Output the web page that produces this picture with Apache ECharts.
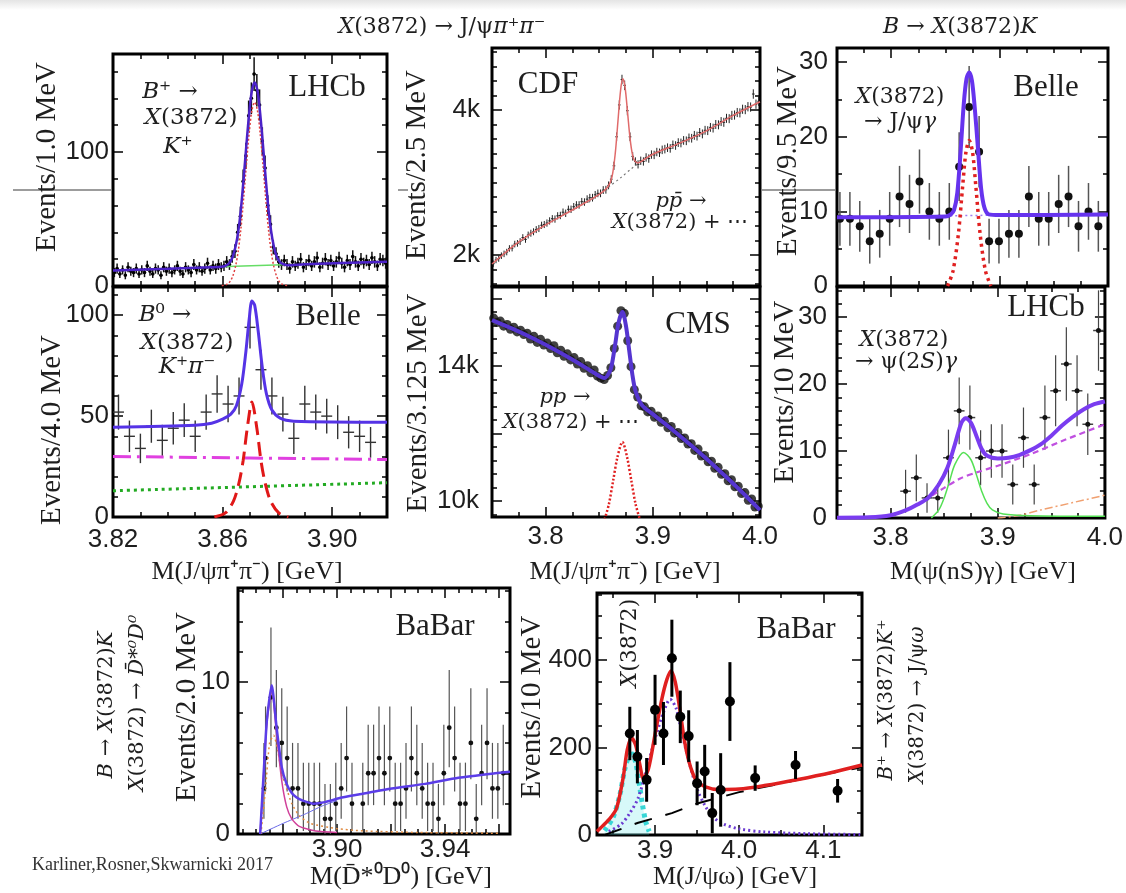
<!DOCTYPE html>
<html><head><meta charset="utf-8">
<script src="https://cdn.jsdelivr.net/npm/echarts/dist/echarts.min.js"></script>
<style>html,body{margin:0;padding:0;background:#fff}#c{width:1126px;height:893px}</style>
</head><body><div id="c"></div>
<script>
// ---------------- DATA ----------------
// Panel 1: LHCb B+ -> X(3872)K+, J/psi pi pi (1 MeV bins)
const lhcbX = [3.8205,3.8215,3.8225,3.8235,3.8245,3.8255,3.8265,3.8275,3.8285,3.8295,
3.8305,3.8315,3.8325,3.8335,3.8345,3.8355,3.8365,3.8375,3.8385,3.8395,
3.8405,3.8415,3.8425,3.8435,3.8445,3.8455,3.8465,3.8475,3.8485,3.8495,
3.8505,3.8515,3.8525,3.8535,3.8545,3.8555,3.8565,3.8575,3.8585,3.8595,
3.8605,3.8615,3.8625,3.8635,3.8645,3.8655,3.8665,3.8675,3.8685,3.8695,
3.8705,3.8715,3.8725,3.8735,3.8745,3.8755,3.8765,3.8775,3.8785,3.8795,
3.8805,3.8815,3.8825,3.8835,3.8845,3.8855,3.8865,3.8875,3.8885,3.8895,
3.8905,3.8915,3.8925,3.8935,3.8945,3.8955,3.8965,3.8975,3.8985,3.8995,
3.9005,3.9015,3.9025,3.9035,3.9045,3.9055,3.9065,3.9075,3.9085,3.9095,
3.9105,3.9115,3.9125,3.9135,3.9145,3.9155,3.9165,3.9175,3.9185,3.9195];
const lhcbY = [10,13,9,12,8,14,11,10,13,9, 12,10,15,11,9,13,12,8,14,11, 13,10,12,15,11,9,14,12,10,16,
12,14,11,13,17,12,15,13,16,14, 15,18,16,22,26,40,52,78,97,127, 140,158,146,135,108,88,60,46,29,24,
18,16,19,16,13,18,15,17,20,14, 16,19,15,18,21,14,17,20,16,19, 15,18,21,17,14,19,16,22,18,15, 20,17,19,16,21,18,15,20,19,17];
const lhcbErr = [3.4,3.8,3.0,3.4,3.0,3.8,3.4,3.4,3.8,3.0, 3.4,3.4,3.8,3.4,3.0,3.8,3.4,3.0,3.8,3.4, 3.8,3.4,3.4,3.8,3.4,3.0,3.8,3.4,3.4,4.1,
3.4,3.8,3.4,3.8,4.1,3.4,3.8,3.8,4.1,3.8, 3.8,4.3,4.0,4.7,5.1,6.3,7.2,8.8,9.8,11.3, 11.8,12.6,12.1,11.6,10.4,9.4,7.7,6.8,5.4,4.9,
4.3,4.0,4.3,4.1,3.8,4.3,3.8,4.1,4.6,3.8, 4.1,4.3,3.8,4.3,4.6,3.8,4.1,4.6,4.1,4.3, 3.8,4.3,4.6,4.1,3.8,4.3,4.1,4.6,4.3,3.8, 4.6,4.1,4.3,4.1,4.6,4.3,3.8,4.6,4.3,4.1];
const lhcbFit = [[3.82,11.5],[3.84,12.8],[3.8557,14.0],[3.8597,14.3],[3.8617,15.8],[3.8627,17.8],[3.8637,21.8],[3.8647,29.2],[3.8657,40.6],[3.8667,57.6],[3.8677,80.7],[3.8687,105.7],[3.8697,128.8],[3.8707,145.8],[3.8717,151.8],[3.8727,145.9],[3.8737,129],[3.8747,106],[3.8757,81],[3.8767,58],[3.8777,41],[3.8787,29.5],[3.8797,22.3],[3.8807,18.4],[3.8817,16.6],[3.8837,15.4],[3.89,16.3],[3.92,18]];
const lhcbSig = [[3.8597,0.2],[3.8617,1.4],[3.8627,3.3],[3.8637,7.3],[3.8647,14.5],[3.8657,26],[3.8667,43],[3.8677,66],[3.8687,91],[3.8697,114],[3.8707,131],[3.8717,137],[3.8727,131],[3.8737,114],[3.8747,91],[3.8757,66],[3.8767,43],[3.8777,26],[3.8787,14.5],[3.8797,7.3],[3.8807,3.3],[3.8817,1.4],[3.8837,0.2]];
const lhcbBg = [[3.856,14.2],[3.882,15.8]];

// Panel 2: Belle B0 -> X(3872) K+ pi- (4 MeV bins)
const b0X = [3.822,3.826,3.830,3.834,3.838,3.842,3.846,3.850,3.854,3.858,3.862,3.866,3.870,3.874,3.878,3.882,3.886,3.890,3.894,3.898,3.902,3.906,3.910,3.914];
const b0Y = [52,40,34,45,38,44,48,40,52,61,56,60,94,73,60,51,39,56,52,50,47,42,40,37];
const b0Err = [8.7,7.8,7.3,8.2,7.7,8.1,8.4,7.8,8.7,9.3,9.0,9.2,10.5,9.9,9.2,8.6,7.8,9.0,8.7,8.6,8.4,8.0,7.8,7.6];
const b0Fit = [[3.82,44.5],[3.85,45.5],[3.856,46.5],[3.86,48.5],[3.863,51],[3.865,55],[3.867,66],[3.8685,82],[3.8697,98],[3.8707,107],[3.8717,105],[3.873,92],[3.8745,74],[3.876,61],[3.878,53],[3.881,49],[3.886,47.5],[3.92,47]];
const b0Sig = [[3.857,0],[3.861,2],[3.864,8],[3.866,17],[3.8675,28],[3.869,44],[3.8707,57],[3.8725,44],[3.874,28],[3.8755,17],[3.8775,8],[3.8805,2],[3.884,0]];
const b0BgA = [[3.82,30],[3.92,28.5]];
const b0BgB = [[3.82,13],[3.92,17]];

// Panel 3: CDF (2.5 MeV bins)
const cdfX = [3.75125,3.75375,3.75625,3.75875,3.76125,3.76375,3.76625,3.76875,3.77125,3.77375,
3.77625,3.77875,3.78125,3.78375,3.78625,3.78875,3.79125,3.79375,3.79625,3.79875,
3.80125,3.80375,3.80625,3.80875,3.81125,3.81375,3.81625,3.81875,3.82125,3.82375,
3.82625,3.82875,3.83125,3.83375,3.83625,3.83875,3.84125,3.84375,3.84625,3.84875,
3.85125,3.85375,3.85625,3.85875,3.86125,3.86375,3.86625,3.86875,3.87125,3.87375,
3.87625,3.87875,3.88125,3.88375,3.88625,3.88875,3.89125,3.89375,3.89625,3.89875,
3.90125,3.90375,3.90625,3.90875,3.91125,3.91375,3.91625,3.91875,3.92125,3.92375,
3.92625,3.92875,3.93125,3.93375,3.93625,3.93875,3.94125,3.94375,3.94625,3.94875,
3.95125,3.95375,3.95625,3.95875,3.96125,3.96375,3.96625,3.96875,3.97125,3.97375,
3.97625,3.97875,3.98125,3.98375,3.98625,3.98875,3.99125,3.99375,3.99625,3.99875];
const cdfY = [1880,1930,1950,1990,2015,2040,2090,2095,2150,2160, 2185,2240,2215,2275,2300,2320,2350,2365,2410,2420,
2440,2470,2500,2495,2540,2545,2590,2575,2630,2630, 2665,2690,2690,2735,2730,2770,2790,2790,2830,2850,
2850,2895,2900,2960,3045,3230,3630,4070,4420,4340, 3990,3630,3360,3290,3250,3300,3290,3345,3330,3385,
3380,3420,3410,3450,3460,3480,3470,3520,3510,3550, 3545,3580,3575,3615,3610,3650,3640,3690,3670,3720,
3715,3760,3750,3800,3795,3840,3830,3885,3880,3925, 3930,3965,3960,4010,4005,4045,4040,4220,4080,4120];
const cdfErr = [44,44,44,45,45,45,45,46,46,46, 47,47,47,48,48,48,48,49,49,49, 50,50,50,50,50,51,51,51,51,51, 52,52,52,52,52,53,53,53,53,53,
53,54,54,54,55,57,60,64,66,66, 63,60,58,57,57,57,57,58,58,58, 58,58,58,59,59,59,59,59,59,60, 60,60,60,60,60,61,61,61,61,61,
61,61,61,62,62,62,62,62,62,63, 63,63,63,63,63,64,64,65,64,64];
const cdfFit = [[3.75,1875],[3.775,2180],[3.80,2415],[3.825,2620],[3.85,2835],[3.858,2938],[3.862,3082],[3.865,3404],[3.8675,3848],[3.87,4279],[3.872,4430],[3.874,4329],[3.8765,3961],[3.879,3580],[3.882,3330],[3.886,3269],[3.89,3298],[3.90,3390],[3.925,3542],[3.95,3712],[3.975,3925],[4.0,4113]];
const cdfBg = [[3.84,2725],[3.85,2835],[3.86,2950],[3.87,3065],[3.88,3190],[3.89,3298],[3.90,3390]];

// Panel 4: CMS (3.125 MeV bins)
const cmsX = [3.7516,3.7547,3.7578,3.7609,3.7641,3.7672,3.7703,3.7734, 3.7766,3.7797,3.7828,3.7859,3.7891,3.7922,3.7953,3.7984,
3.8016,3.8047,3.8078,3.8109,3.8141,3.8172,3.8203,3.8234, 3.8266,3.8297,3.8328,3.8359,3.8391,3.8422,3.8453,3.8484,
3.8516,3.8547,3.8578,3.8609,3.8641,3.8672,3.8703,3.8734, 3.8766,3.8797,3.8828,3.8859,3.8891,3.8922,3.8953,3.8984,
3.9016,3.9047,3.9078,3.9109,3.9141,3.9172,3.9203,3.9234, 3.9266,3.9297,3.9328,3.9359,3.9391,3.9422,3.9453,3.9484,
3.9516,3.9547,3.9578,3.9609,3.9641,3.9672,3.9703,3.9734, 3.9766,3.9797,3.9828,3.9859,3.9891,3.9922,3.9953,3.9984];
const cmsY = [15420,15290,15330,15180,15230,15090,15150,15010, 15060,14930,14970,14800,14880,14700,14790,14620,
14680,14520,14600,14390,14470,14290,14360,14180, 14250,14060,14130,13930,14010,13800,13880,13700,
13640,13600,13720,13950,14520,15180,15640,15560, 14750,13980,13300,13080,12820,12790,12640,12660,
12480,12520,12330,12360,12170,12210,12010,12030, 11850,11870,11690,11700,11500,11540,11330,11350,
11160,11180,10970,11000,10790,10810,10600,10630, 10420,10440,10220,10250,10020,10060,9820,9850];
const cmsFit = [[3.75,15360],[3.77,15091],[3.79,14791],[3.81,14459],[3.83,14095],[3.845,13802],[3.855,13645],[3.86,13844],[3.862,14076],[3.865,14657],[3.868,15277],[3.8717,15605],[3.875,15180],[3.878,14459],[3.881,13735],[3.884,13245],[3.89,12837],[3.90,12574],[3.92,12068],[3.94,11531],[3.96,10963],[3.98,10362],[4.0,9730]];
const cmsSig = [[3.855,9450],[3.859,9900],[3.863,10600],[3.867,11300],[3.8717,11750],[3.876,11300],[3.880,10600],[3.884,9900],[3.888,9450]];

// Panel 5: Belle X(3872) -> J/psi gamma
const bjgX = [3.7527,3.7619,3.7710,3.7802,3.7894,3.7986,3.8077,3.8169,3.8261,3.8352,3.8444,3.8536,3.8627,3.8719,3.8811,3.8903,3.8994,3.9086,3.9178,3.9270,3.9361,3.9453,3.9545,3.9636,3.9728,3.9820,3.9911];
const bjgY = [9,9,8,6,7,9,12,11,14,10,9,10,16,24,18,6,6,7,7,12,9,9,11,12,8,10,8];
const bjgErr = [3.6,3.6,3.4,3.0,3.2,3.6,4.1,3.9,4.3,3.8,3.6,3.8,4.6,5.5,4.8,3.0,3.0,3.2,3.2,4.1,3.6,3.6,3.9,4.1,3.4,3.8,3.4];
const bjgFit = [[3.75,9.2],[3.85,9.3],[3.855,9.6],[3.858,10.2],[3.861,12.5],[3.864,18],[3.867,24.5],[3.8695,27.8],[3.872,28.6],[3.8745,27.5],[3.877,24],[3.880,18.5],[3.883,13],[3.886,10.5],[3.890,9.6],[3.90,9.5],[4.0,9.6]];
const bjgSig = [[3.852,0],[3.857,2],[3.862,7],[3.866,13.5],[3.869,18],[3.872,19.5],[3.875,18],[3.878,13.5],[3.882,7],[3.887,2],[3.892,0]];
const bjgBg = [[3.85,9.4],[3.90,9.5]];

// Panel 6: LHCb X(3872) -> psi(2S) gamma (10 MeV bins)
const lpsX = [3.814,3.824,3.834,3.844,3.854,3.864,3.874,3.884,3.894,3.904,3.914,3.924,3.934,3.944,3.954,3.964,3.974,3.984,3.994];
const lpsY = [4,6,3,3,9,16,15,9,10,10,5,12,5,15,19,23,19,14,28];
const lpsErr = [3.2,3.5,2.2,2.2,4.2,5.0,4.8,4.1,4.0,4.0,3.0,4.5,3.0,4.8,5.3,5.5,5.3,4.6,6.0];
const lpsFit = [[3.75,0.05],[3.78,0.1],[3.80,0.4],[3.815,1.2],[3.825,2.0],[3.835,3.0],[3.845,5.0],[3.853,7.5],[3.86,11.0],[3.866,14.2],[3.87,14.9],[3.875,14.2],[3.88,12.3],[3.885,10.3],[3.89,9.3],[3.90,8.9],[3.91,9.0],[3.92,9.4],[3.93,10.1],[3.94,11.0],[3.95,12.3],[3.96,13.8],[3.97,15.1],[3.98,16.2],[3.99,17.0],[4.0,17.4]];
const lpsSig = [[3.838,0],[3.845,1.2],[3.85,3],[3.855,5.5],[3.86,8],[3.868,9.8],[3.875,8.7],[3.88,6.5],[3.885,4],[3.89,2.2],[3.895,1.2],[3.905,0.6],[3.93,0.35],[4.0,0.25]];
const lpsBgA = [[3.75,0],[3.80,0.4],[3.82,1.6],[3.835,3.0],[3.85,4.5],[3.865,5.9],[3.88,6.8],[3.90,7.8],[3.93,9.5],[3.96,11.5],[4.0,14.0]];
const lpsBgB = [[3.90,0],[3.92,0.4],[3.94,1.2],[3.97,2.3],[4.0,3.4]];

// Panel 7: BaBar X(3872) -> D*0 D0 (2 MeV bins)
const bdX = [3.8729,3.8735,3.8755,3.8775,3.8795,3.8815,3.8835,3.8855,3.8875,3.8895,3.8915,3.8935,3.8955,3.8975,3.8995,3.9015,3.9035,3.9055,
3.9095,3.9115,3.9135,3.9155,3.9175,3.9195,3.9215,3.9235,3.9255,3.9275,3.9295,3.9315,3.9335,3.9355,3.9375,3.9395,3.9415,3.9435,3.9455,3.9475,3.9495,3.9515,3.9535,3.9555,3.9575,3.9595,3.9615];
const bdY = [3, 5,9,7,6,5,3,3,2,2,2,2,1,1,2,3,5,2, 2,4,4,5,4,5,2,2,3,5,4,3,2,2,1,4,7,5,2,2,6,1,4,6,3,3,4];
const bdHi = [3.0, 3.4,4.6,3.8,3.6,3.4,3.0,3.0,2.7,2.7,2.7,2.7,2.3,2.3,2.7,3.0,3.4,2.7, 2.7,3.2,3.2,3.4,3.2,3.4,2.7,2.7,3.0,3.4,3.2,3.0,2.7,2.7,2.3,3.2,3.8,3.4,2.7,2.7,3.6,2.3,3.2,3.6,3.0,3.0,3.2];
const bdLo = [2.0, 2.2,3.2,2.6,2.4,2.2,2.0,2.0,1.8,1.8,1.8,1.8,1.0,1.0,1.8,2.0,2.2,1.8, 1.8,2.1,2.1,2.2,2.1,2.2,1.8,1.8,2.0,2.2,2.1,2.0,1.8,1.8,1.0,2.1,2.6,2.2,1.8,1.8,2.4,1.0,2.1,2.4,2.0,2.0,2.1];
const bdFit = [[3.8715,0],[3.8728,4],[3.874,7.5],[3.8758,9.8],[3.8776,7.0],[3.8795,4.4],[3.8813,3.3],[3.8832,2.7],[3.885,2.4],[3.8873,2.2],[3.8912,2.0],[3.8955,2.1],[3.9017,2.4],[3.9079,2.6],[3.9202,3.0],[3.9326,3.3],[3.9449,3.7],[3.9585,4.0],[3.964,4.1]];
const bdSig = [[3.8715,0],[3.8728,4],[3.874,7.3],[3.8758,9.5],[3.8776,6.5],[3.8795,3.5],[3.8813,1.8],[3.8832,1.0],[3.886,0.5],[3.892,0.2],[3.90,0.1]];
const bdBgA = [[3.8718,0],[3.8735,3],[3.875,6],[3.8765,6.5],[3.878,5.5],[3.8795,4],[3.8813,3.0],[3.8832,2.0],[3.886,1.2],[3.89,0.7],[3.90,0.35],[3.91,0.2],[3.93,0.1],[3.96,0.05]];
const bdBgB = [[3.8715,0],[3.88,0.7],[3.888,1.3],[3.8945,1.85],[3.90,2.2]];

// Panel 8: BaBar B+ -> X K+, X -> J/psi omega
const jwX = [3.870,3.879,3.890,3.900,3.910,3.920,3.930,3.940,3.950,3.959,3.968,3.978,3.989,4.019,4.067,4.117];
const jwY = [232,179,126,286,232,404,270,226,118,145,50,103,305,130,160,101];
const jwErr = [61,61,50,80,72,88,60,59,50,61,46,84,90,29,32,27];
const jwFit = [[3.831,8],[3.8346,15],[3.845,35],[3.854,60],[3.862,130],[3.867,195],[3.872,222],[3.877,205],[3.882,160],[3.886,130],[3.892,150],[3.90,230],[3.908,310],[3.914,355],[3.919,375],[3.924,350],[3.93,280],[3.935,215],[3.94,170],[3.945,140],[3.95,122],[3.96,110],[3.975,104],[4.0,105],[4.03,113],[4.07,127],[4.11,143],[4.146,160]];
const jwSigA = [[3.84,10],[3.85,40],[3.858,90],[3.864,150],[3.869,180],[3.873,185],[3.877,165],[3.881,120],[3.885,70],[3.889,30],[3.893,8]];
const jwSigB = [[3.845,8],[3.86,25],[3.87,50],[3.88,85],[3.89,150],[3.90,220],[3.91,280],[3.918,310],[3.925,290],[3.93,250],[3.94,170],[3.95,105],[3.96,65],[3.97,40],[3.98,26],[4.0,14],[4.03,7],[4.08,3],[4.146,1]];
const jwBg = [[3.84,0],[3.88,28],[3.92,50],[3.95,72],[4.0,98],[4.05,118],[4.10,138],[4.146,155]];

// Tick labels
const xLab382 = [3.82, 3.86, 3.90];
const xLab38 = [3.8, 3.9, 4.0];
const xLabBD = [3.90, 3.94];
const xLabJW = [3.9, 4.0, 4.1];
const yLabP1 = [0, 100];
const yLabP2 = [0, 50, 100];
const yLabP3 = [2000, 4000];
const yLabP4 = [10000, 14000];
const yLab30 = [0, 10, 20, 30];
const yLabP7 = [0, 10];
const yLabP8 = [0, 200, 400];

// ---------------- BUILD ----------------
const FS = "'Liberation Serif','Times New Roman',serif";
const FM = "'DejaVu Serif','Liberation Serif',serif";
const FSANS = "'Liberation Sans',Arial,sans-serif";
function steps(a, b, s) { const out = []; for (let v = a; v <= b + 1e-9; v += s) out.push(Math.round(v * 1e6) / 1e6); return out; }

const grids = [], xAxis = [], yAxis = [], series = [];
function mkPanel(g, xr, yr, xt, yt) {
  const gi = grids.length;
  grids.push({left: g[0], top: g[1], width: g[2], height: g[3], show: true, borderColor: '#000', borderWidth: 3, backgroundColor: 'rgba(0,0,0,0)'});
  const ax = {xi: xAxis.length, yi: yAxis.length};
  const base = (r) => ({type: 'value', gridIndex: gi, min: r[0], max: r[1], axisLine: {show: false, onZero: false}, splitLine: {show: false}});
  const tick = (vals, len) => ({show: true, inside: true, length: len, customValues: vals, lineStyle: {color: '#000', width: 1.5}});
  const lab = (vals, fmt, margin) => vals ? {show: true, customValues: vals, formatter: fmt, margin: margin, fontSize: 26, fontFamily: FSANS, color: '#1e1e1e'} : {show: false};
  xAxis.push(Object.assign(base(xr), {position: 'bottom', axisTick: tick(xt.major, 10), axisLabel: lab(xt.labels, xt.fmt, xt.margin)}));
  xAxis.push(Object.assign(base(xr), {position: 'bottom', axisTick: tick(xt.minor, 5), axisLabel: {show: false}}));
  xAxis.push(Object.assign(base(xr), {position: 'top', axisTick: tick(xt.major, 10), axisLabel: {show: false}}));
  xAxis.push(Object.assign(base(xr), {position: 'top', axisTick: tick(xt.minor, 5), axisLabel: {show: false}}));
  yAxis.push(Object.assign(base(yr), {position: 'left', axisTick: tick(yt.major, 10), axisLabel: lab(yt.labels, yt.fmt, yt.margin)}));
  yAxis.push(Object.assign(base(yr), {position: 'left', axisTick: tick(yt.minor, 5), axisLabel: {show: false}}));
  yAxis.push(Object.assign(base(yr), {position: 'right', axisTick: tick(yt.major, 10), axisLabel: {show: false}}));
  yAxis.push(Object.assign(base(yr), {position: 'right', axisTick: tick(yt.minor, 5), axisLabel: {show: false}}));
  return ax;
}
function curve(ax, data, color, width, type, opt) {
  opt = opt || {};
  const s = {type: 'line', xAxisIndex: ax.xi, yAxisIndex: ax.yi, data: data, showSymbol: false, symbol: 'none',
    smooth: opt.smooth === undefined ? 0.3 : opt.smooth, clip: true, silent: true, z: opt.z || 4,
    lineStyle: {color: color, width: width, type: type || 'solid', cap: 'butt'}};
  if (opt.area) s.areaStyle = {color: opt.area, origin: 'start'};
  return s;
}
function points(ax, xs, ys, lo, hi, st) {
  const data = xs.map((x, i) => [x, ys[i], lo ? lo[i] : 0, hi ? hi[i] : (lo ? lo[i] : 0)]);
  return {type: 'custom', xAxisIndex: ax.xi, yAxisIndex: ax.yi, data: data, silent: true, z: st.z || 3,
    encode: {x: 0, y: 1},
    renderItem: function (params, api) {
      const x = api.value(0), y = api.value(1), el = api.value(2), eh = api.value(3);
      const cs = params.coordSys, T = cs.y, B = cs.y + cs.height, L = cs.x, R = cs.x + cs.width;
      const p = api.coord([x, y]);
      if (p[0] < L - 0.5 || p[0] > R + 0.5) return;
      const cl = v => Math.max(T, Math.min(B, v));
      const y1 = cl(api.coord([x, y - el])[1]), y2 = cl(api.coord([x, y + eh])[1]);
      const ch = [];
      if (st.bw && (el > 0 || eh > 0)) ch.push({type: 'line', shape: {x1: p[0], y1: y1, x2: p[0], y2: y2}, style: {stroke: st.color, lineWidth: st.bw}});
      const inside = p[1] >= T && p[1] <= B;
      if (st.hw && inside) {
        const a = api.coord([x - st.hw, y])[0], b = api.coord([x + st.hw, y])[0];
        ch.push({type: 'line', shape: {x1: Math.max(L, a), y1: p[1], x2: Math.min(R, b), y2: p[1]}, style: {stroke: st.color, lineWidth: st.hlw || st.bw}});
      }
      if (st.r && inside) ch.push({type: 'circle', shape: {cx: p[0], cy: p[1], r: st.r}, style: {fill: st.dot || '#000'}});
      return {type: 'group', children: ch};
    }};
}

const f2 = v => v.toFixed(2), f1 = v => v.toFixed(1), fk = v => (v / 1000) + 'k', fi = v => String(v);

// P1 LHCb
const a1 = mkPanel([113, 54, 274, 232], [3.82, 3.92], [0, 173],
  {major: xLab382, minor: steps(3.82, 3.92, 0.01)},
  {major: yLabP1, minor: steps(0, 160, 20), labels: yLabP1, fmt: fi, margin: 4});
series.push(points(a1, lhcbX, lhcbY, lhcbErr, null, {color: '#111', bw: 1.5, hw: 0.0005, r: 1.8}));
series.push(curve(a1, lhcbBg, '#66dd66', 1.5));
series.push(curve(a1, lhcbSig, '#e04040', 1.5, [2, 2]));
series.push(curve(a1, lhcbFit, '#4b22c8', 2.5, 'solid', {z: 5}));

// P2 Belle B0
const a2 = mkPanel([113, 287, 274, 230], [3.82, 3.92], [0, 114],
  {major: xLab382, minor: steps(3.82, 3.92, 0.01), labels: xLab382, fmt: f2, margin: 10},
  {major: yLabP2, minor: steps(0, 110, 10), labels: yLabP2, fmt: fi, margin: 4});
series.push(curve(a2, b0BgB, '#22aa22', 3, [3, 4]));
series.push(curve(a2, b0BgA, '#e040e0', 3, [18, 6, 3, 6]));
series.push(curve(a2, b0Sig, '#e01818', 3, [14, 7]));
series.push(points(a2, b0X, b0Y, b0Err, null, {color: '#333', bw: 1.4, hw: 0.002}));
series.push(curve(a2, b0Fit, '#5533e6', 3, 'solid', {z: 5}));

// P3 CDF
const a3 = mkPanel([492, 48, 268, 238], [3.75, 4.0], [1572, 4855],
  {major: xLab38, minor: steps(3.75, 4.0, 0.025)},
  {major: yLabP3, minor: steps(1600, 4800, 200), labels: yLabP3, fmt: fk, margin: 12});
series.push(curve(a3, cdfBg, '#777', 1.2, [2, 3]));
series.push(points(a3, cdfX, cdfY, cdfErr, null, {color: '#222', bw: 1, hw: 0.00125, hlw: 1}));
series.push(curve(a3, cdfFit, '#e06a6a', 1.5));

// P4 CMS
const a4 = mkPanel([492, 287, 268, 230], [3.75, 4.0], [9526, 16341],
  {major: xLab38, minor: steps(3.75, 4.0, 0.025), labels: xLab38, fmt: f1, margin: 7},
  {major: [10000, 12000, 14000, 16000], minor: steps(9600, 16000, 400), labels: yLabP4, fmt: fk, margin: 13});
series.push({type: 'scatter', xAxisIndex: a4.xi, yAxisIndex: a4.yi, data: cmsX.map((x, i) => [x, cmsY[i]]), symbol: 'circle', symbolSize: 9, itemStyle: {color: '#111'}, silent: true, z: 3, clip: true});
series.push(curve(a4, cmsSig, '#e02020', 2.5, [2, 2]));
series.push(curve(a4, cmsFit, '#5535d0', 4, 'solid', {z: 5}));

// P5 Belle J/psi gamma
const a5 = mkPanel([837, 48, 271, 238], [3.75, 4.0], [0, 31.9],
  {major: xLab38, minor: steps(3.75, 4.0, 0.025)},
  {major: yLab30, minor: steps(0, 30, 5), labels: yLab30, fmt: fi, margin: 9});
series.push(points(a5, bjgX, bjgY, bjgErr, null, {color: '#555', bw: 1.5, hw: 0.003, hlw: 2, r: 4, dot: '#111'}));
series.push(curve(a5, bjgBg, '#a07cf0', 1.5, [2, 3]));
series.push(curve(a5, bjgSig, '#e02020', 3.5, [3, 4]));
series.push(curve(a5, bjgFit, '#6633ee', 4, 'solid', {z: 5}));

// P6 LHCb psi(2S) gamma
const a6 = mkPanel([837, 287, 271, 231], [3.75, 4.0], [0, 34.5],
  {major: xLab38, minor: steps(3.75, 4.0, 0.025), labels: xLab38, fmt: f1, margin: 7},
  {major: yLab30, minor: steps(0, 34, 2), labels: yLab30, fmt: fi, margin: 10});
series.push(points(a6, lpsX, lpsY, lpsErr, null, {color: '#444', bw: 1.2, hw: 0.005, hlw: 1.5, r: 2.5, dot: '#111'}));
series.push(curve(a6, lpsBgB, '#f0a070', 1.5, [8, 3, 2, 3]));
series.push(curve(a6, lpsSig, '#55e055', 1.5));
series.push(curve(a6, lpsBgA, '#c050e0', 2.2, [6, 4]));
series.push(curve(a6, lpsFit, '#7a3cf0', 4, 'solid', {z: 5}));

// P7 BaBar D*0 D0
const a7 = mkPanel([238, 588, 272, 246], [3.8633, 3.964], [0, 16.2],
  {major: [3.88, 3.90, 3.92, 3.94, 3.96], minor: steps(3.865, 3.96, 0.005), labels: xLabBD, fmt: f2, margin: 3},
  {major: yLabP7, minor: steps(0, 16, 2), labels: yLabP7, fmt: fi, margin: 8});
series.push(points(a7, bdX, bdY, bdLo, bdHi, {color: '#555', bw: 1.2, r: 2.4, dot: '#111'}));
series.push(curve(a7, bdBgB, '#6a6ae8', 1, 'solid', {smooth: 0.2}));
series.push(curve(a7, bdBgA, '#e08a40', 1.5, [2, 3], {smooth: 0.2}));
series.push(curve(a7, bdSig, '#d0409a', 1.5, 'solid', {smooth: 0.2}));
series.push(curve(a7, bdFit, '#5b3de8', 2.5, 'solid', {z: 5, smooth: 0.2}));

// P8 BaBar J/psi omega
const a8 = mkPanel([597, 593, 265, 242], [3.831, 4.146], [0, 553],
  {major: xLabJW, minor: steps(3.85, 4.15, 0.05), labels: xLabJW, fmt: f1, margin: 3},
  {major: yLabP8, minor: steps(0, 550, 50), labels: yLabP8, fmt: fi, margin: 5});
series.push(curve(a8, jwSigA, '#38d6d6', 5, [4, 4], {area: 'rgba(90,230,230,0.35)'}));
series.push(curve(a8, jwSigB, '#6a3ad0', 3, [2, 3]));
series.push(curve(a8, jwBg, '#000', 2, [18, 14], {smooth: 0}));
series.push(curve(a8, jwFit, '#e02020', 3.5, 'solid', {z: 5}));
series.push(points(a8, jwX, jwY, jwErr, null, {color: '#000', bw: 3, r: 5, dot: '#000', z: 6}));

// ---------------- TEXT ----------------
const ROT = Math.PI / 2;
function rt(x, y, str, size, opt) {
  opt = opt || {};
  const fam = opt.family || FM, col = opt.color || '#1e1e1e', al = opt.align || 'center';
  return {type: 'text', x: x, y: y, rotation: opt.rot ? ROT : 0, z: 100, silent: true,
    style: {text: str, x: 0, y: 0, fontSize: size, fontFamily: fam, fill: col,
      align: al, verticalAlign: 'middle', textAlign: al, textVerticalAlign: 'middle',
      rich: {i: {fontSize: size, fontFamily: fam, fontStyle: 'italic', fill: col}}}};
}
const gfx = [
  {type: 'rect', z: -10, shape: {x: 0, y: 0, width: 1126, height: 10}, style: {fill: new echarts.graphic.LinearGradient(0, 0, 0, 1, [{offset: 0, color: '#e4e4e4'}, {offset: 1, color: '#ffffff'}])}},
  {type: 'line', z: -10, shape: {x1: 13, y1: 190, x2: 111, y2: 190}, style: {stroke: '#9c9c9c', lineWidth: 2}},
  {type: 'line', z: -10, shape: {x1: 398, y1: 190, x2: 408, y2: 190}, style: {stroke: '#9c9c9c', lineWidth: 2}},
  {type: 'line', z: -10, shape: {x1: 762, y1: 190, x2: 835, y2: 190}, style: {stroke: '#9c9c9c', lineWidth: 2}},
  rt(442, 27, '{i|X}(3872) → J/ψ{i|π⁺π⁻}', 22),
  rt(960, 27, '{i|B} → {i|X}(3872){i|K}', 22),
  rt(170, 92, '{i|B}⁺ →', 23), rt(191, 118, '{i|X}(3872)', 23), rt(178, 147, '{i|K}⁺', 23),
  rt(327, 88, 'LHCb', 31, {family: FS}),
  rt(165, 315, '{i|B}⁰ →', 23), rt(187, 343, '{i|X}(3872)', 23), rt(187, 367, '{i|K}⁺{i|π}⁻', 23),
  rt(328, 317, 'Belle', 31, {family: FS}),
  rt(548, 85, 'CDF', 31, {family: FS}), rt(681, 202, '{i|pp̄} →', 21), rt(680, 223, '{i|X}(3872) + ⋯', 21),
  rt(698, 325, 'CMS', 31, {family: FS}), rt(565, 398, '{i|pp} →', 21), rt(571, 423, '{i|X}(3872) + ⋯', 21),
  rt(1046, 88, 'Belle', 31, {family: FS}), rt(900, 97, '{i|X}(3872)', 22), rt(900, 122, '→ J/ψ{i|γ}', 22),
  rt(1046, 308, 'LHCb', 31, {family: FS}), rt(904, 340, '{i|X}(3872)', 22), rt(906, 362, '→ ψ(2{i|S}){i|γ}', 22),
  rt(435, 627, 'BaBar', 31, {family: FS}),
  rt(796, 630, 'BaBar', 31, {family: FS}), rt(630, 643, '{i|X}(3872)', 22, {rot: true}),
  rt(107, 705, '{i|B} → {i|X}(3872){i|K}', 21, {rot: true}),
  rt(138, 703, '{i|X}(3872) → {i|D̄*⁰D⁰}', 21, {rot: true}),
  rt(887, 700, '{i|B}⁺ → {i|X}(3872){i|K}⁺', 20, {rot: true}),
  rt(918, 705, '{i|X}(3872) → J/ψ{i|ω}', 20, {rot: true}),
  rt(47, 157, 'Events/1.0 MeV', 29, {family: FS, rot: true}),
  rt(52, 430, 'Events/4.0 MeV', 29, {family: FS, rot: true}),
  rt(417, 165, 'Events/2.5 MeV', 29, {family: FS, rot: true}),
  rt(418, 403, 'Events/3.125 MeV', 29, {family: FS, rot: true}),
  rt(788, 161, 'Events/9.5 MeV', 29, {family: FS, rot: true}),
  rt(785, 392, 'Events/10 MeV', 29, {family: FS, rot: true}),
  rt(187, 707, 'Events/2.0 MeV', 29, {family: FS, rot: true}),
  rt(532, 707, 'Events/10 MeV', 29, {family: FS, rot: true}),
  rt(247, 572, 'M(J/ψπ⁺π⁻) [GeV]', 26, {family: FS}),
  rt(625, 572, 'M(J/ψπ⁺π⁻) [GeV]', 26, {family: FS}),
  rt(983, 572, 'M(ψ(nS)γ) [GeV]', 26, {family: FS}),
  rt(401, 877, 'M(D̄*⁰D⁰) [GeV]', 26, {family: FS}),
  rt(735, 877, 'M(J/ψω) [GeV]', 26, {family: FS}),
  rt(32, 865, 'Karliner,Rosner,Skwarnicki 2017', 18, {family: FS, align: 'left', color: '#333'})
];

const chart = echarts.init(document.getElementById('c'), null, {renderer: 'canvas'});
chart.setOption({
  animation: false, backgroundColor: '#ffffff',
  grid: grids, xAxis: xAxis, yAxis: yAxis, series: series, graphic: {elements: gfx}
});
</script></body></html>
